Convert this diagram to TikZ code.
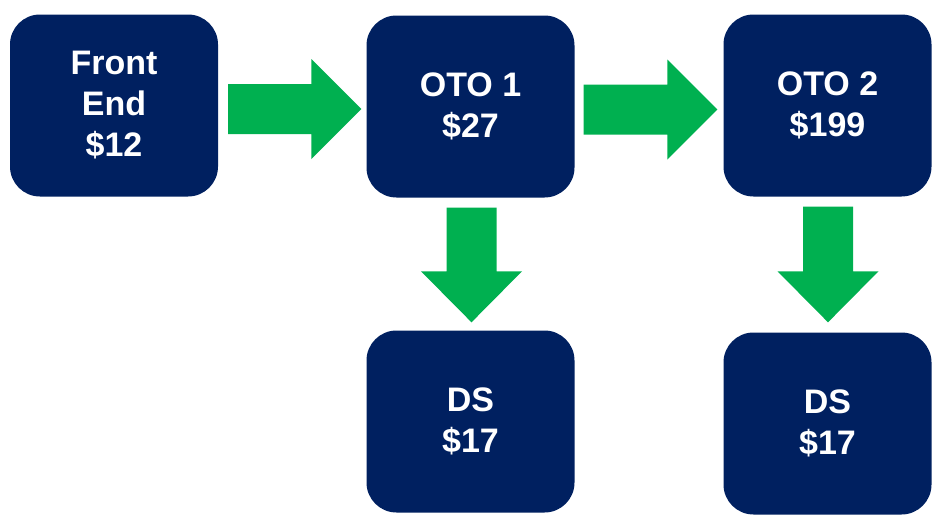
\documentclass[tikz,border=0pt]{standalone}
\usepackage{fontspec}
\setmainfont{Liberation Sans}
\usetikzlibrary{calc}
\definecolor{navy}{HTML}{002060}
\definecolor{arrowgreen}{HTML}{00B050}
\begin{document}
\begin{tikzpicture}[x=1pt,y=-1pt,
  box/.style={fill=navy, draw=none, rounded corners=30pt, minimum width=208pt, minimum height=182pt,
    inner sep=0pt, text=white, align=center, font=\bfseries\fontsize{34}{41}\selectfont},
  blockarrow/.style={fill=arrowgreen, draw=none}]
\useasboundingbox (0,0) rectangle (939,525);
\node[box] (fe)   at (114,105.5) {Front\\End\\\$12};
\node[box] (oto1) at (470.5,106.5) {OTO 1\\\$27};
\node[box] (oto2) at (827.5,105.5) {OTO 2\\\$199};
\node[box] (ds1)  at (470.5,421.5) {DS\\\$17};
\node[box] (ds2)  at (827.5,423.5) {DS\\\$17};
% right arrows
\coordinate (s1) at ($(fe.east)+(10,3.5)$);
\coordinate (e1) at ($(oto1.west)+(-5,2.5)$);
\fill[blockarrow] ($(s1)+(0,-25)$) -- ($(e1)+(-50,-25)$) -- ($(e1)+(-50,-50)$) -- (e1)
  -- ($(e1)+(-50,50)$) -- ($(e1)+(-50,25)$) -- ($(s1)+(0,25)$) -- cycle;
\coordinate (s2) at ($(oto1.east)+(9,3)$);
\coordinate (e2) at ($(oto2.west)+(-6,4)$);
\fill[blockarrow] ($(s2)+(0,-25)$) -- ($(e2)+(-50,-25)$) -- ($(e2)+(-50,-50)$) -- (e2)
  -- ($(e2)+(-50,50)$) -- ($(e2)+(-50,25)$) -- ($(s2)+(0,25)$) -- cycle;
% down arrows
\coordinate (s3) at ($(oto1.south)+(1,10)$);
\coordinate (e3) at ($(ds1.north)+(1,-8)$);
\fill[blockarrow] ($(s3)+(-25,0)$) -- ($(e3)+(-25,-51)$) -- ($(e3)+(-50.5,-51)$) -- (e3)
  -- ($(e3)+(50.5,-51)$) -- ($(e3)+(25,-51)$) -- ($(s3)+(25,0)$) -- cycle;
\coordinate (s4) at ($(oto2.south)+(0.5,10)$);
\coordinate (e4) at ($(ds2.north)+(0.5,-10)$);
\fill[blockarrow] ($(s4)+(-25,0)$) -- ($(e4)+(-25,-51)$) -- ($(e4)+(-50.5,-51)$) -- (e4)
  -- ($(e4)+(50.5,-51)$) -- ($(e4)+(25,-51)$) -- ($(s4)+(25,0)$) -- cycle;
\end{tikzpicture}
\end{document}
